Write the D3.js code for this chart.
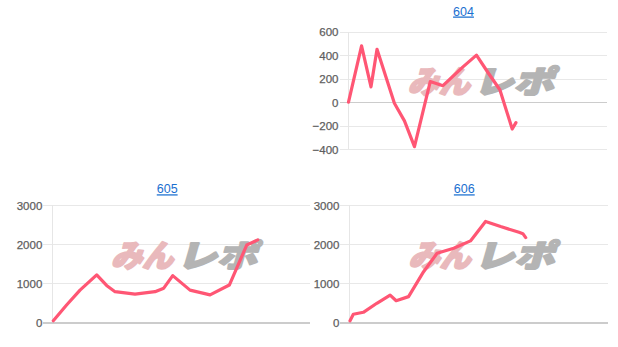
<!DOCTYPE html>
<html><head><meta charset="utf-8">
<script src="https://cdn.jsdelivr.net/npm/d3@7"></script>
<style>
html,body{margin:0;padding:0;background:#fff;}
svg{display:block;}
</style></head>
<body>
<svg id="c" width="618" height="347"></svg>
<script>
// ---- data ----
const panelTitles = ["604", "605", "606"];

const games604 = [0, 455, 783, 993, 1598, 1948, 2297, 2846, 3287, 3986, 4455, 4861, 5270, 5700, 5829];
const diff604  = [0, 480, 130, 450, -10, -160, -380, 175, 140, 300, 400, 250, 105, -230, -175];

const games605 = [35, 500, 970, 1554, 1900, 2195, 2895, 3595, 3900, 4214, 4820, 5520, 6195, 6804, 7189];
const diff605  = [50, 450, 830, 1220, 950, 790, 730, 790, 880, 1200, 830, 710, 960, 1980, 2110];

const games606 = [25, 140, 490, 959, 1424, 1634, 2065, 2590, 3059, 3640, 4224, 4749, 5274, 5915, 6050, 6149];
const diff606  = [50, 215, 265, 495, 705, 560, 665, 1300, 1770, 1900, 2085, 2580, 2450, 2305, 2270, 2170];

const ticks604 = [-400, -200, 0, 200, 400, 600];
const ticks60x = [0, 1000, 2000, 3000];
const gameMax = 9000;

const panels = [
  {title: panelTitles[0], games: games604, vals: diff604, ticks: ticks604, yDom: [-400, 600],
   left: 348.5, right: 607, top: 31.7, bottom: 149, titleX: 463.5, titleY: 15.5},
  {title: panelTitles[1], games: games605, vals: diff605, ticks: ticks60x, yDom: [0, 3000],
   left: 52.3, right: 309.5, top: 205, bottom: 322.7, titleX: 167.2, titleY: 193.3},
  {title: panelTitles[2], games: games606, vals: diff606, ticks: ticks60x, yDom: [0, 3000],
   left: 349.3, right: 607.5, top: 205, bottom: 322.7, titleX: 464.3, titleY: 193.3}
];

const svg = d3.select("#c");
const FONT = "Arial, 'Liberation Sans', sans-serif";

panels.forEach(p => {
  const x = d3.scaleLinear().domain([0, gameMax]).range([p.left, p.right]);
  const y = d3.scaleLinear().domain(p.yDom).range([p.bottom, p.top]);
  const g = svg.append("g");

  // title
  g.append("text").attr("x", p.titleX).attr("y", p.titleY)
    .attr("text-anchor", "middle").attr("font-family", FONT).attr("font-size", 12.5)
    .attr("fill", "#1a6fd0").attr("text-decoration", "underline").text(p.title);

  // gridlines + labels via axis
  const ax = d3.axisLeft(y).tickValues(p.ticks).tickSize(-(p.right - p.left) - 9).tickPadding(1)
    .tickFormat(d3.format("d"));
  const axg = g.append("g").attr("transform", `translate(${p.left - 9},0)`).call(ax);
  axg.select(".domain").remove();
  axg.selectAll(".tick line").attr("stroke", d => d === 0 ? "#cccccc" : "#e8e8e8").attr("stroke-width", 1)
    .attr("shape-rendering", "crispEdges");
  axg.selectAll(".tick text").attr("font-family", FONT).attr("font-size", 11.5).attr("fill", "#5e5e5e")
    .attr("stroke", "#5e5e5e").attr("stroke-width", 0.25)
    .attr("x", -1).attr("dy", "0.36em");

  // left vertical axis line
  g.append("line").attr("x1", p.left).attr("x2", p.left).attr("y1", p.top).attr("y2", p.bottom)
    .attr("stroke", "#e6e6e6").attr("shape-rendering", "crispEdges");
  // zero baseline on top
  g.append("line").attr("x1", p.left - 9).attr("x2", p.right).attr("y1", y(0)).attr("y2", y(0))
    .attr("stroke", "#cccccc").attr("shape-rendering", "crispEdges");

  // watermark
  const cx = (p.left + p.right) / 2, cy = (p.top + p.bottom) / 2 - 8;
  const wm = g.append("g").attr("transform", `translate(${cx},${cy + 11}) skewX(-16)`);
  wm.append("text").attr("x", -70).attr("y", 0).attr("font-family", "'Noto Sans CJK JP', sans-serif")
    .attr("font-weight", 900).attr("font-size", 31).attr("fill", "#e9b9bc")
    .attr("stroke", "#e9b9bc").attr("stroke-width", 2).attr("stroke-linejoin", "round")
    .attr("textLength", 62).attr("lengthAdjust", "spacingAndGlyphs").text("みん");
  wm.append("text").attr("x", -4).attr("y", 0).attr("font-family", "'Noto Sans CJK JP', sans-serif")
    .attr("font-weight", 900).attr("font-size", 31).attr("fill", "#b4b4b4")
    .attr("stroke", "#b4b4b4").attr("stroke-width", 2).attr("stroke-linejoin", "round")
    .attr("textLength", 80).attr("lengthAdjust", "spacingAndGlyphs").text("レポ");

  // line
  const line = d3.line().x((d, i) => x(p.games[i])).y(d => y(d));
  g.append("path").datum(p.vals).attr("d", line).attr("fill", "none")
    .attr("stroke", "#ff5674").attr("stroke-width", 3.2).attr("stroke-linejoin", "round")
    .attr("stroke-linecap", "round");
});
</script>
</body></html>
